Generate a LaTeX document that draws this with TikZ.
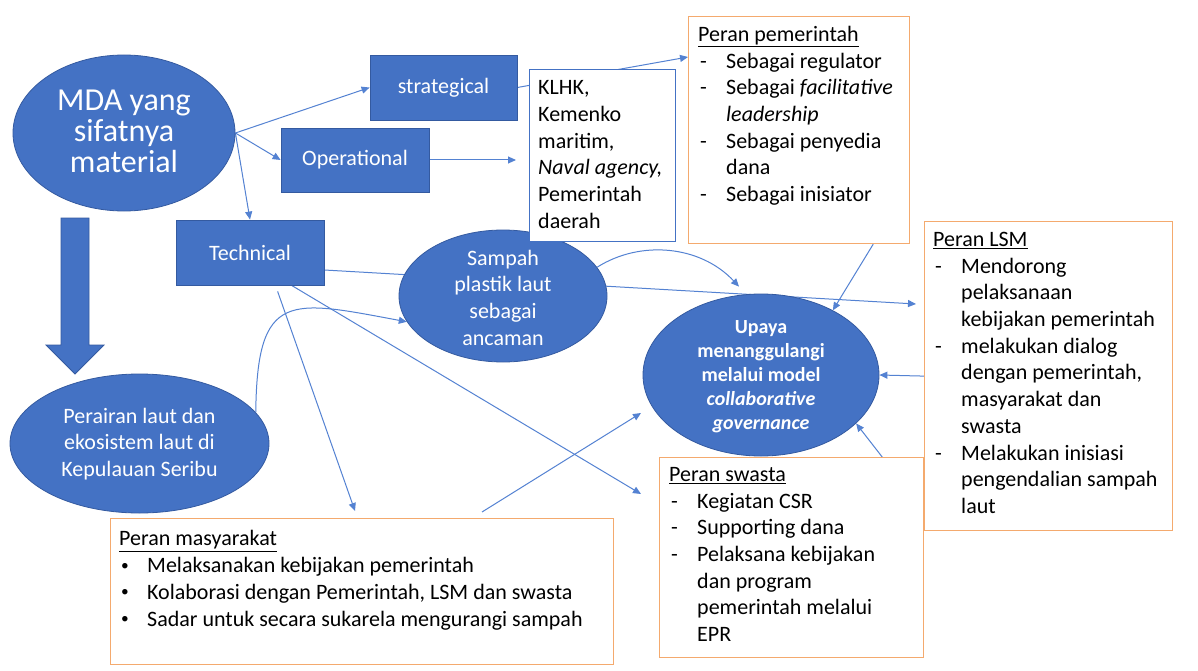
\documentclass[tikz,border=0pt]{standalone}
\usepackage{fontspec}
\setmainfont{Carlito}
\usetikzlibrary{shapes.geometric,arrows.meta,backgrounds,calc}
\definecolor{pblue}{RGB}{68,114,196}
\definecolor{pedge}{RGB}{52,90,160}
\definecolor{lblue}{RGB}{84,130,210}
\definecolor{porange}{RGB}{244,170,110}
\newcommand\dsh{\makebox[28pt][l]{\hspace{2pt}-}}
\newcommand\bul{\makebox[28pt][l]{\hspace{2pt}\raisebox{0.12em}{\scalebox{0.7}{•}}}}
\newcommand\hind{\hspace*{28pt}}
\begin{document}
\begin{tikzpicture}[x=1pt,y=-1pt,
 body/.style={font=\fontsize{22}{26.7}\selectfont},
 bluebox/.style={rectangle, draw=pedge, line width=0.8pt, fill=pblue, text=white, inner sep=0pt, body},
 blueell/.style={ellipse, draw=pedge, line width=0.8pt, fill=pblue, inner sep=0pt},
 wlab/.style={text=white, align=center, inner sep=0pt},
 orbox/.style={rectangle, draw=porange, line width=1.2pt, fill=white, anchor=north west, inner sep=0pt},
 listtext/.style={body, align=left, anchor=north west, inner sep=0pt},
 conn/.style={draw=lblue, line width=1pt, -{Triangle[length=8pt,width=7pt]}},
]
\useasboundingbox (0,0) rectangle (1198,671);

% ellipses
\node[blueell, minimum width=222pt, minimum height=156pt] (mda) at (124,133) {};
\node[wlab, font=\fontsize{32}{31}\selectfont] (mdaT) at (124,131) {MDA yang\\sifatnya\\material};
\node[blueell, minimum width=208pt, minimum height=132pt] (sampah) at (503,296) {};
\node[wlab, body] (sampahT) at (503,297.5) {Sampah\\plastik laut\\sebagai\\ancaman};
\node[blueell, minimum width=259pt, minimum height=139pt] (perairan) at (139.5,443.5) {};
\node[wlab, body] (perairanT) at (139.5,444) {Perairan laut dan\\ekosistem laut di\\Kepulauan Seribu};
\node[blueell, minimum width=236pt, minimum height=162pt] (upaya) at (761,375) {};
\node[wlab, font=\bfseries\fontsize{20}{24}\selectfont] (upayaT) at (761,377) {Upaya\\menanggulangi\\melalui model\\\textit{collaborative}\\\textit{governance}};

% rectangles
\node[bluebox, minimum width=147pt, minimum height=65pt] (strat) at (443.5,87.5) {strategical};
\node[bluebox, minimum width=148pt, minimum height=64pt] (oper) at (355,160) {Operational};
\node[bluebox, minimum width=148pt, minimum height=65pt] (tech) at (250,252.5) {Technical};

% big arrow
\filldraw[fill=pblue, draw=pedge, line width=0.8pt] (61,218) -- (89,218) -- (89,345) -- (104,345) -- (75,374) -- (46,345) -- (61,345) -- cycle;

% white / orange boxes
\node[rectangle, draw=pblue, line width=1pt, fill=white, anchor=north west, inner sep=0pt, minimum width=146pt, minimum height=172pt] (klhk) at (529,69) {};
\node[listtext] (klhkT) at (538,80.5) {KLHK,\\Kemenko\\maritim,\\\textit{Naval agency,}\\Pemerintah\\daerah};

\node[orbox, minimum width=221pt, minimum height=227pt] (pem) at (688,16) {};
\node[listtext] (pemT) at (698,26) {\underline{Peran pemerintah}\\\dsh Sebagai regulator\\\dsh Sebagai \textit{facilitative}\\\hind\textit{leadership}\\\dsh Sebagai penyedia\\\hind dana\\\dsh Sebagai inisiator};

\node[orbox, minimum width=248pt, minimum height=309pt] (lsm) at (924,221) {};
\node[listtext] (lsmT) at (933,232) {\underline{Peran LSM}\\\dsh Mendorong\\\hind pelaksanaan\\\hind kebijakan pemerintah\\\dsh melakukan dialog\\\hind dengan pemerintah,\\\hind masyarakat dan\\\hind swasta\\\dsh Melakukan inisiasi\\\hind pengendalian sampah\\\hind laut};

\node[orbox, minimum width=264pt, minimum height=200pt] (swasta) at (659,457) {};
\node[listtext] (swastaT) at (669,467) {\underline{Peran swasta}\\\dsh Kegiatan CSR\\\dsh Supporting dana\\\dsh Pelaksana kebijakan\\\hind dan program\\\hind pemerintah melalui\\\hind EPR};

\node[orbox, minimum width=503pt, minimum height=146pt] (masy) at (110,518) {};
\node[listtext] (masyT) at (119,530.5) {\underline{Peran masyarakat}\\\bul Melaksanakan kebijakan pemerintah\\\bul Kolaborasi dengan Pemerintah, LSM dan swasta\\\bul Sadar untuk secara sukarela mengurangi sampah};

% connectors
\begin{pgfonlayer}{background}
\fill[white] (0,0) rectangle (1198,671);
\draw[conn] (mda.east) -- (strat.west);
\draw[conn] (mda.east) -- (oper.west);
\draw[conn] (mda.east) -- (tech.north);
\draw[conn] (strat.east) -- ([yshift=-41pt]pem.north west);
\draw[conn] (oper.east) -- ($(klhk.west |- oper.east)+(-13,0)$);
\draw[conn] ([yshift=-17.5pt]tech.east) -- ($(lsm.north west)+(-8,83)$);
\draw[conn] (sampah.17) .. controls (640,240) and (700,245) .. ($(upaya.north)+(-22,-7)$);
\draw[conn] ([xshift=-37pt]pem.south east) -- (upaya.42);
\draw[conn] (lsm.west) -- (upaya.east);
\draw[conn] ([xshift=-42pt]swasta.north east) -- (upaya.-27);
\draw[conn] ([xshift=372pt,yshift=6pt]masy.north west) -- ($(upaya.center)+(-120,38)$);
\draw[conn] ([xshift=102pt,yshift=-6pt]tech.south west) -- ([xshift=245pt,yshift=7pt]masy.north west);
\draw[conn] ([xshift=116pt]tech.south west) -- ($(swasta.north west)+(-18,37)$);
\draw[conn] (perairan.15) .. controls (257,290) and (290,300) .. (sampah.195);
\end{pgfonlayer}
\end{tikzpicture}
\end{document}
